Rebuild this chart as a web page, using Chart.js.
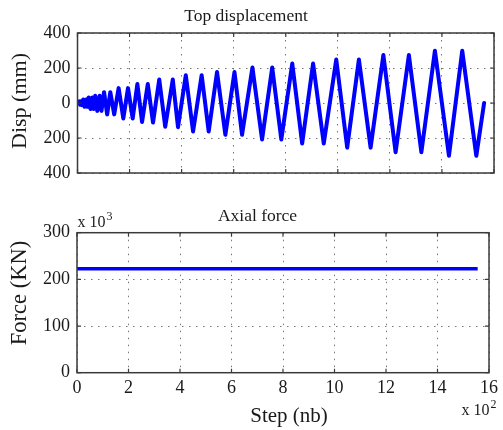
<!DOCTYPE html>
<html>
<head>
<meta charset="utf-8">
<script src="https://cdn.jsdelivr.net/npm/chart.js@4"></script>
<style>
  html, body { margin: 0; padding: 0; background: #fff; }
  #wrap { position: relative; width: 503px; height: 430px; overflow: hidden; }
  .box { position: absolute; left: 0; width: 503px; }
  #topBox { top: 0; height: 200px; }
  #botBox { top: 200px; height: 230px; }
</style>
</head>
<body>
<div id="wrap">
  <div class="box" id="topBox"><canvas id="dispChart" width="503" height="200"></canvas></div>
  <div class="box" id="botBox"><canvas id="forceChart" width="503" height="230"></canvas></div>
</div>
<script>
// Displacement history (step number, mm) - turning points
const steps = [0, 7, 10, 14, 17, 22, 27, 33, 37, 43, 50, 57, 62, 68, 76, 85, 92,
  102, 114, 126, 141, 158, 176, 194, 212, 230, 248, 270, 290, 314, 337, 366, 386,
  416, 444, 477, 504, 536, 568, 603, 632, 672, 709, 748, 783, 825, 863, 905, 946,
  994, 1036, 1081, 1126, 1175, 1222, 1273, 1321, 1373, 1427, 1478, 1532, 1562];
const disp = [0, 10, -10, 10, -12, 20, -22, 20, -22, 32, -34, 32, -34, 42, -45, 42, -45,
  62, -65, 62, -65, 85, -88, 85, -88, 109, -108, 109, -112, 134, -136, 134, -138,
  159, -163, 159, -163, 177, -182, 177, -182, 203, -208, 203, -208, 226, -231, 226, -231,
  248, -255, 248, -255, 274, -282, 274, -282, 299, -302, 299, -302, 0];

// Axial force (x 10^3 KN)
const forceSteps = [0, 1556];
const force = [223, 223];

const xTickLabels = ['0', '2', '4', '6', '8', '10', '12', '14', '16'];

const FONT = '"Liberation Serif", "Times New Roman", serif';
const BLUE = '#0000ff';

// frame + inward ticks + free texts (matlab look)
const frameTicks = {
  id: 'frameTicks',
  afterDraw(chart, args, opts) {
    const ctx = chart.ctx;
    const a = chart.chartArea;
    const xs = chart.scales.x, ys = chart.scales.y;
    ctx.save();
    ctx.strokeStyle = '#3a3a3a';
    ctx.lineWidth = 1.5;
    ctx.strokeRect(a.left, a.top, a.right - a.left, a.bottom - a.top);
    ctx.lineWidth = 1.2;
    ctx.beginPath();
    xs.ticks.forEach(t => {
      const px = xs.getPixelForValue(t.value);
      ctx.moveTo(px, a.bottom); ctx.lineTo(px, a.bottom - 4);
      ctx.moveTo(px, a.top); ctx.lineTo(px, a.top + 4);
    });
    ys.ticks.forEach(t => {
      const py = ys.getPixelForValue(t.value);
      ctx.moveTo(a.left, py); ctx.lineTo(a.left + 4, py);
      ctx.moveTo(a.right, py); ctx.lineTo(a.right - 4, py);
    });
    ctx.stroke();

    ctx.fillStyle = '#1a1a1a';
    (opts.texts || []).forEach(t => {
      ctx.save();
      ctx.font = t.size + 'px ' + FONT;
      ctx.textAlign = t.align || 'center';
      ctx.textBaseline = t.base || 'middle';
      ctx.translate(t.x, t.y);
      if (t.rot) ctx.rotate(t.rot);
      ctx.fillText(t.text, 0, 0);
      ctx.restore();
    });
    ctx.restore();
  }
};

function baseScales(yMin, yMax, yStep, showX, xH, yW) {
  return {
    x: {
      type: 'linear', min: 0, max: 1600,
      ticks: {
        stepSize: 200, display: showX, padding: 5,
        color: '#1a1a1a', font: { family: FONT, size: 18 },
        maxRotation: 0,
        callback: (v, i) => xTickLabels[i]
      },
      grid: { color: '#777', lineWidth: 1, drawTicks: false },
      border: { display: false, dash: [1.5, 5.5] },
      afterFit: s => { s.height = xH; }
    },
    y: {
      type: 'linear', min: yMin, max: yMax,
      ticks: {
        stepSize: yStep, padding: 7,
        color: '#1a1a1a', font: { family: FONT, size: 18 },
        callback: v => String(Math.abs(v))
      },
      grid: { color: '#777', lineWidth: 1, drawTicks: false },
      border: { display: false, dash: [1.5, 5.5] },
      afterFit: s => { s.width = yW; }
    }
  };
}

new Chart(document.getElementById('dispChart'), {
  type: 'line',
  data: {
    datasets: [{
      data: steps.map((s, i) => ({ x: s, y: disp[i] })),
      borderColor: BLUE, borderWidth: 4, borderJoinStyle: 'round', borderCapStyle: 'round',
      pointRadius: 0, tension: 0, fill: false
    }]
  },
  options: {
    responsive: false, animation: false,
    layout: { padding: { left: 0, right: 9, top: 33, bottom: 0 } },
    scales: baseScales(-400, 400, 200, false, 27, 77.5),
    plugins: {
      legend: { display: false }, tooltip: { enabled: false },
      frameTicks: {
        texts: [
          { text: 'Top displacement', x: 246, y: 16.5, size: 17.5 },
          { text: 'Disp (mm)', x: 20, y: 101, size: 22, rot: -Math.PI / 2 }
        ]
      }
    }
  },
  plugins: [frameTicks]
});

new Chart(document.getElementById('forceChart'), {
  type: 'line',
  data: {
    datasets: [{
      data: forceSteps.map((s, i) => ({ x: s, y: force[i] })),
      borderColor: BLUE, borderWidth: 3.5, pointRadius: 0, tension: 0, fill: false
    }]
  },
  options: {
    responsive: false, animation: false,
    layout: { padding: { left: 0, right: 10, top: 32.7, bottom: 0 } },
    scales: baseScales(0, 300, 100, true, 57.3, 77),
    plugins: {
      legend: { display: false }, tooltip: { enabled: false },
      frameTicks: {
        texts: [
          { text: 'Axial force', x: 257.5, y: 16, size: 17.5 },
          { text: 'x 10', x: 77.5, y: 27.3, size: 16, align: 'left', base: 'alphabetic' },
          { text: '3', x: 106.5, y: 20, size: 12, align: 'left', base: 'alphabetic' },
          { text: 'Force (KN)', x: 20, y: 93, size: 22.5, rot: -Math.PI / 2 },
          { text: 'Step (nb)', x: 289, y: 216.5, size: 21 },
          { text: 'x 10', x: 461.5, y: 215.3, size: 16, align: 'left', base: 'alphabetic' },
          { text: '2', x: 490.5, y: 207.5, size: 12, align: 'left', base: 'alphabetic' }
        ]
      }
    }
  },
  plugins: [frameTicks]
});
</script>
</body>
</html>
